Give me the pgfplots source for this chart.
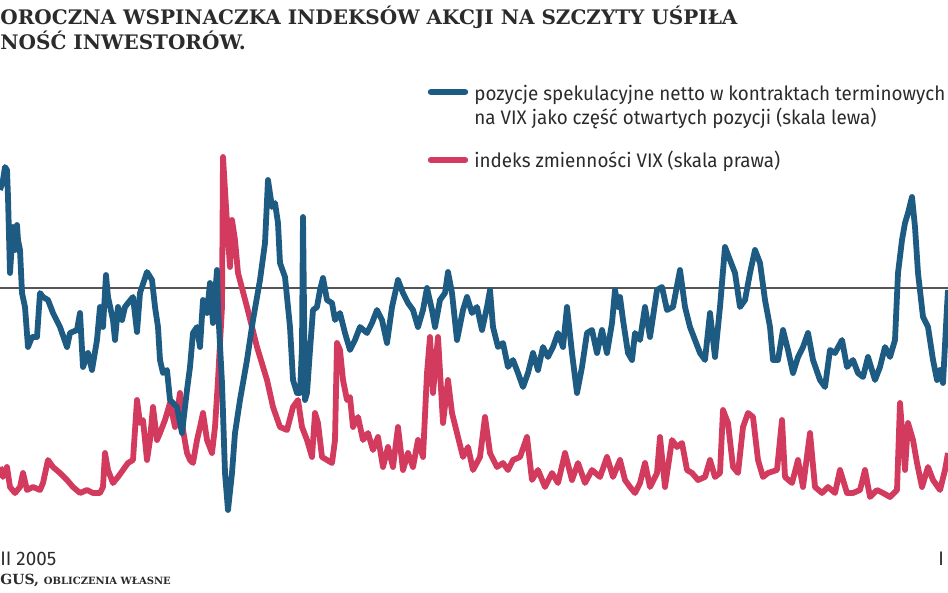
\documentclass[border=0pt]{standalone}
\usepackage{fontspec}
\usepackage{pgfplots}
\pgfplotsset{compat=1.18}
\setmainfont{Fira Sans}
\newfontfamily\legfont{Fira Sans}[FakeStretch=0.96]
\newfontfamily\slabfont{DejaVu Serif}
\definecolor{vixblue}{HTML}{1E5B82}
\definecolor{vixred}{HTML}{D23B5E}
\definecolor{zeroline}{HTML}{555555}
\definecolor{txt}{HTML}{2B2B2B}

\begin{document}
\begin{tikzpicture}
\begin{axis}[
    scale only axis,
    width=474pt, height=296.5pt,
    xmin=0, xmax=948,
    ymin=0, ymax=593, y dir=reverse,
    hide axis,
    clip=false,
]

% zero line (left scale)
\addplot[zeroline, line width=0.6pt] coordinates {(0,288)(948,288)};

% VIX index (right scale)
\addplot[vixred, line width=2.9pt, line join=round] coordinates {
(0,467)(3,477)(7,467)(10,487)(15,493)(20,487)(23,473)(27,490)(33,487)(40,490)
(43,483)(48,460)(53,467)(60,473)(67,480)(73,487)(80,493)(87,490)(93,493)(100,493)
(103,487)(105,453)(108,470)(113,483)(118,477)(123,470)(128,463)(133,460)(135,430)(137,400)
(140,423)(143,420)(147,460)(150,440)(153,407)(157,440)(160,433)(165,420)(170,403)(175,427)
(180,393)(183,430)(187,453)(190,460)(193,463)(197,440)(200,427)(203,413)(207,440)(212,453)
(215,427)(218,380)(222,307)(223,157)(227,223)(230,267)(232,220)(235,240)(238,273)(247,307)
(257,347)(267,380)(273,407)(280,427)(287,430)(293,407)(298,400)(302,427)(307,440)(312,457)
(315,413)(318,423)(322,457)(327,460)(332,463)(335,440)(337,343)(340,350)(343,380)(347,400)
(350,397)(353,427)(358,417)(363,440)(368,433)(373,450)(378,437)(383,467)(388,447)(393,467)
(398,427)(403,470)(408,453)(413,467)(418,440)(423,457)(427,373)(430,337)(433,393)(438,337)
(443,423)(448,380)(452,413)(457,433)(463,457)(468,447)(473,470)(480,457)(485,417)(490,453)
(497,467)(503,463)(508,470)(513,460)(520,457)(527,437)(532,480)(538,470)(545,487)(552,473)
(558,483)(565,453)(572,480)(578,463)(585,483)(592,470)(600,477)(607,457)(613,477)(620,460)
(625,480)(630,487)(635,493)(640,483)(645,463)(650,487)(657,473)(660,437)(665,487)(672,440)
(677,447)(682,443)(687,470)(692,473)(698,480)(705,477)(710,460)(715,477)(720,473)(723,410)
(728,423)(733,467)(738,473)(743,427)(748,413)(753,417)(758,460)(763,477)(768,473)(777,470)
(782,420)(785,477)(792,483)(798,460)(803,487)(810,433)(815,487)(822,493)(828,487)(835,493)
(840,470)(847,493)(853,493)(860,490)(865,470)(870,497)(877,490)(883,493)(890,497)(897,490)
(900,403)(905,470)(908,423)(913,440)(917,463)(922,487)(928,467)(933,480)(940,490)(945,470)
(948,453)
};

% net speculative positions (left scale)
\addplot[vixblue, line width=2.9pt, line join=round] coordinates {
(0,190)(3,180)(5,167)(7,170)(8,197)(10,273)(13,227)(15,250)(17,225)(18,240)
(20,250)(22,293)(25,307)(28,347)(32,337)(37,337)(40,293)(43,297)(48,300)(53,313)
(60,327)(67,347)(70,333)(77,330)(80,313)(83,367)(88,353)(92,370)(97,340)(100,307)
(103,327)(106,275)(108,297)(113,320)(115,340)(118,307)(122,320)(125,307)(128,303)(133,297)
(137,332)(140,293)(147,272)(152,280)(155,307)(158,327)(160,360)(163,373)(167,370)(170,400)
(173,403)(177,407)(182,433)(185,407)(187,390)(190,367)(193,333)(197,327)(200,347)(203,300)
(207,313)(210,283)(213,323)(217,270)(218,307)(222,383)(225,473)(228,510)(232,473)(235,433)
(240,400)(247,360)(253,320)(260,280)(265,243)(268,180)(272,207)(275,203)(278,223)(280,263)
(285,277)(290,327)(293,380)(297,393)(300,393)(302,347)(303,217)(305,400)(307,393)(310,350)
(313,310)(317,307)(320,290)(323,278)(327,300)(332,303)(335,320)(340,313)(345,333)(350,350)
(355,340)(360,327)(367,333)(372,323)(377,310)(382,320)(387,343)(392,307)(398,280)(403,293)
(408,303)(413,310)(418,327)(423,310)(427,288)(432,310)(435,327)(440,300)(445,293)(448,272)
(452,293)(457,340)(463,310)(467,297)(472,313)(477,307)(482,330)(487,307)(490,290)(493,327)
(498,347)(503,343)(508,367)(513,360)(518,373)(523,387)(528,373)(533,353)(538,370)(543,347)
(548,357)(553,347)(558,333)(563,347)(567,307)(572,353)(577,393)(582,367)(587,333)(592,330)
(597,353)(602,330)(607,353)(612,323)(615,290)(618,307)(620,297)(623,320)(628,353)(632,360)
(635,333)(640,340)(645,307)(650,337)(657,290)(662,287)(667,310)(673,307)(680,270)(685,307)
(690,327)(695,340)(700,353)(705,360)(710,313)(715,357)(720,307)(725,247)(730,260)(735,273)
(740,307)(745,300)(750,273)(755,250)(760,263)(765,300)(770,327)(773,360)(778,360)(783,330)
(788,350)(793,373)(798,357)(803,347)(808,333)(813,360)(820,380)(825,387)(830,350)(835,353)
(842,340)(847,367)(853,360)(858,373)(863,377)(868,357)(875,380)(880,367)(885,347)(890,357)
(895,340)(898,273)(902,240)(905,223)(908,213)(912,197)(915,227)(918,273)(923,317)(928,327)
(933,360)(937,380)(940,370)(943,383)(947,307)(948,290)
};

% title
\node[anchor=base west, inner sep=0pt, text=txt, font=\slabfont\bfseries\fontsize{10}{12}\selectfont]
  at (axis cs:0,25) {OROCZNA WSPINACZKA INDEKSÓW AKCJI NA SZCZYTY UŚPIŁA};
\node[anchor=base west, inner sep=0pt, text=txt, font=\slabfont\bfseries\fontsize{10}{12}\selectfont]
  at (axis cs:0,50) {NOŚĆ INWESTORÓW.};

% legend
\draw[vixblue, line width=3.2pt, line cap=round] (axis cs:431,92) -- (axis cs:465,92);
\node[anchor=base west, inner sep=0pt, text=txt, font=\legfont\fontsize{9.8}{12}\selectfont]
  at (axis cs:474,101) {pozycje spekulacyjne netto w kontraktach terminowych};
\node[anchor=base west, inner sep=0pt, text=txt, font=\legfont\fontsize{9.8}{12}\selectfont]
  at (axis cs:474,125) {na VIX jako część otwartych pozycji (skala lewa)};
\draw[vixred, line width=3.2pt, line cap=round] (axis cs:431,160) -- (axis cs:465,160);
\node[anchor=base west, inner sep=0pt, text=txt, font=\legfont\fontsize{9.8}{12}\selectfont]
  at (axis cs:474,168) {indeks zmienności VIX (skala prawa)};

% bottom labels
\node[anchor=base west, inner sep=0pt, text=txt, font=\legfont\fontsize{9.8}{12}\selectfont]
  at (axis cs:0,565) {II 2005};
\node[anchor=base west, inner sep=0pt, text=txt, font=\legfont\fontsize{9.8}{12}\selectfont]
  at (axis cs:938,565) {I};
\node[anchor=base west, inner sep=0pt, text=txt, font=\slabfont\bfseries\fontsize{7}{8}\selectfont]
  at (axis cs:0,584) {GUS, {\fontsize{5}{6}\selectfont OBLICZENIA WŁASNE}};

\end{axis}
\pgfresetboundingbox
\useasboundingbox (current axis.south west) rectangle (current axis.north east);
\end{tikzpicture}
\end{document}
